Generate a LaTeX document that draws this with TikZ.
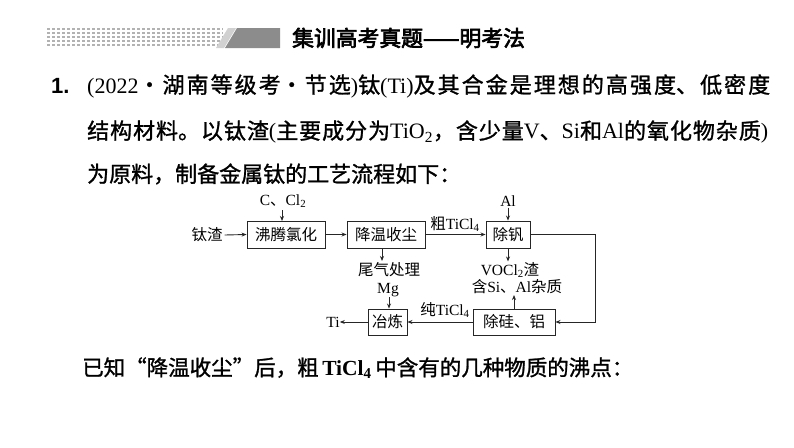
\documentclass[tikz,border=0pt]{standalone}
\usepackage{fontspec}
\setmainfont{Liberation Serif}
\newfontfamily\cjk{Noto Sans CJK SC}
\newfontfamily\cjkb[FakeBold=1.2]{Noto Sans CJK SC}
\newfontfamily\cjkh[FakeBold=3]{Noto Sans CJK SC}
\newfontfamily\lsans{Liberation Sans}
\usetikzlibrary{arrows.meta}
\newcommand\latn[1]{{\rmfamily #1}}
\newcommand\justline[2]{\parbox{#1}{\XeTeXlinebreaklocale "zh"\XeTeXlinebreakskip=0pt plus 4pt\parfillskip=0pt\noindent #2\par}}
\tikzset{
  flowbox/.style={draw=black!85, line width=0.9pt, minimum height=27pt, inner sep=0pt,
    font=\cjk\fontsize{15.5}{16}\selectfont},
  flowlbl/.style={inner sep=0pt, font=\cjk\fontsize{15.5}{16}\selectfont},
  conn/.style={draw=black!85, line width=0.9pt},
  arr/.style={conn, -{Stealth[length=5pt,width=4pt]}},
  bodytxt/.style={anchor=west, inner sep=0pt, font=\cjkb\fontsize{22}{22}\selectfont},
}
\begin{document}
\begin{tikzpicture}[x=1pt,y=-1pt]
\fill[white] (0,0) rectangle (794,447);
\useasboundingbox (0,0) rectangle (794,447);
% header decoration
\foreach \yy in {29,33,37,41,45}
  \draw[black!30, line width=2pt, dash pattern=on 3pt off 2pt] (47,\yy) -- (223,\yy);
\fill[black!18] (216,48) -- (228,28) -- (236,28) -- (224,48) -- cycle;
\fill[black!45] (225,48) -- (237,28) -- (280,28) -- (280,48) -- cycle;
\node[anchor=west, inner sep=0pt, font=\cjkh\fontsize{21.8}{22}\selectfont] (head) at (292,38) {集训高考真题——明考法};
% problem text
\node[anchor=west, inner sep=0pt, font=\lsans\bfseries\fontsize{22}{22}\selectfont] (num) at (51,86) {1.};
\node[bodytxt] (l1) at (87,86) {\justline{683pt}{\latn{(2022}・湖南等级考・节选\latn{)}钛\latn{(Ti)}及其合金是理想的高强度、低密度}};
\node[bodytxt] (l2) at (87,132) {\justline{681pt}{结构材料。以钛渣\latn{(}主要成分为\latn{TiO\textsubscript{2}}，含少量\latn{V}、\latn{Si}和\latn{Al}的氧化物杂质\latn{)}}};
\node[bodytxt] (l3) at (87,174) {为原料，制备金属钛的工艺流程如下：};
% flowchart
\node[flowbox, minimum width=78pt] (b1) at (286,234.5) {沸腾氯化};
\node[flowbox, minimum width=78pt] (b2) at (386,234.5) {降温收尘};
\node[flowbox, minimum width=44pt] (b3) at (508,234.5) {除钒};
\node[flowbox, minimum width=82pt, minimum height=26pt] (b4) at (514,322) {除硅、铝};
\node[flowbox, minimum width=39pt, minimum height=26pt] (b5) at (387.5,322) {冶炼};
\node[flowlbl] (slag) at (207,235) {钛渣};
\node[flowlbl] (ccl) at (283,201) {\latn{C}、\latn{Cl\textsubscript{2}}};
\node[flowlbl] (al) at (508,201) {\latn{Al}};
\node[flowlbl] (rough) at (455,224) {粗\latn{TiCl\textsubscript{4}}};
\node[flowlbl] (tail) at (389,270) {尾气处理};
\node[flowlbl] (voc) at (510,270) {\latn{VOCl\textsubscript{2}}渣};
\node[flowlbl] (imp) at (517,287) {含\latn{Si}、\latn{Al}杂质};
\node[flowlbl] (mg) at (388,290) {\latn{Mg}};
\node[flowlbl] (pure) at (445,310) {纯\latn{TiCl\textsubscript{4}}};
\node[flowlbl] (ti) at (333,322) {\latn{Ti}};
\coordinate (rc) at (595,0);
\draw[arr] (slag.east) ++(2,0) -- (b1.west);
\draw[arr] (b1.east) -- (b2.west);
\draw[arr] (b2.east) -- (b3.west);
\draw[arr] (282,210) -- (282,221);
\draw[arr] (b3.north |- al.south) ++(0,1) -- (b3.north);
\draw[arr] (382,248) -- (382,261);
\draw[arr] (b3.south) -- ++(0,13);
\draw[arr] (514,309) -- (514,295);
\draw[arr] (389,297) -- (b5.north -| 389,0);
\draw[arr] (b3.east) -- (b3.east -| rc) |- (b4.east);
\draw[arr] (b4.west) -- (b5.west -| b5.east);
\draw[arr] (b5.west) -- (ti.east);
% last line
\node[bodytxt, font=\cjkb\fontsize{21.5}{22}\selectfont] (l4) at (82,368) {已知“降温收尘”后，粗\latn{\,\bfseries TiCl\textsubscript{4}\,}中含有的几种物质的沸点：};
\end{tikzpicture}
\end{document}
